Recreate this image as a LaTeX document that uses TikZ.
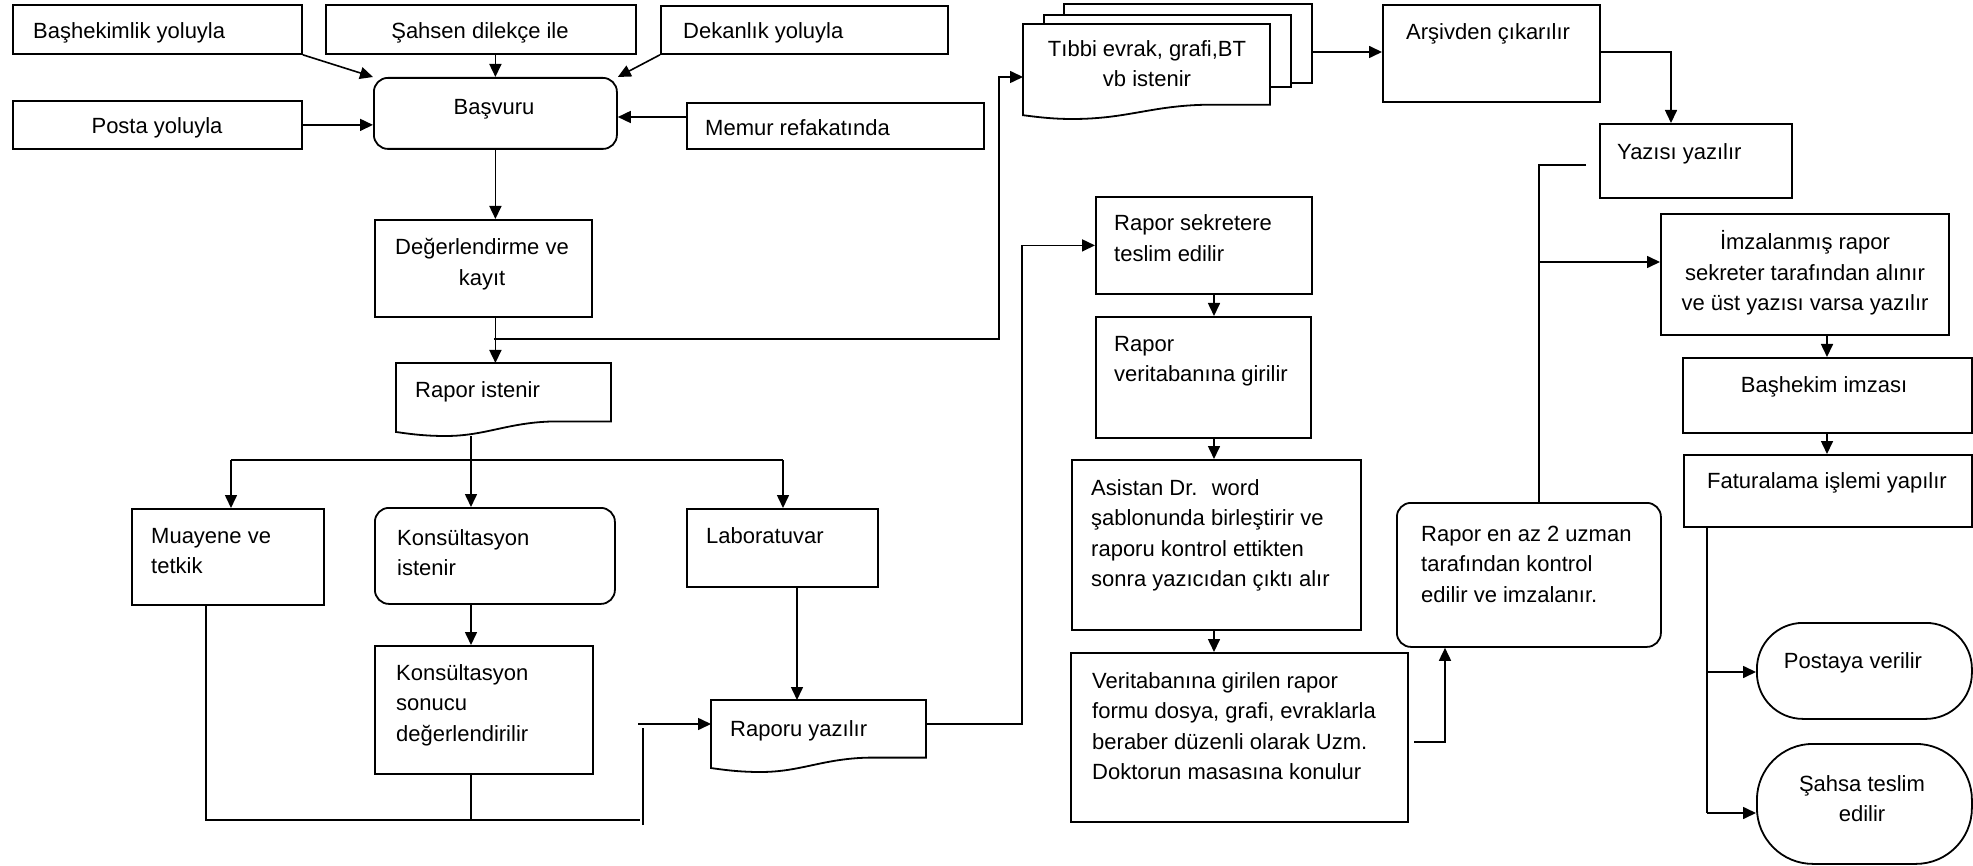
\documentclass[tikz,border=0pt]{standalone}
\usepackage{fontspec}
\setmainfont{Liberation Sans}
\usetikzlibrary{arrows.meta,calc}
\begin{document}
\begin{tikzpicture}[x=1pt,y=-1pt,
  every node/.style={font=\fontsize{22}{30.5}\selectfont},
  box/.style={draw, line width=1.8pt, inner sep=0pt, anchor=north west},
  rbox/.style={box, rounded corners=14pt},
  term/.style={box, rounded corners=#1},
  plain/.style={inner sep=0pt, anchor=north west},
  lt/.style={inner sep=0pt, anchor=base west, align=left},
  ct/.style={inner sep=0pt, anchor=base, align=center},
  arr/.style={-{Triangle[length=13pt,width=12pt]}},
  ln/.style={line width=1.6pt},
  docA/.pic={\path[draw,fill=white,line width=1.8pt] (0,0.945) -- (0,0) -- (1,0) -- (1,0.8) -- (0.74,0.8) .. controls (0.52,0.81) and (0.42,1) .. (0.23,1) .. controls (0.13,1) and (0.06,0.97) .. (0,0.945) -- cycle;},
  docB/.pic={\path[draw,fill=white,line width=1.8pt] (0,0.96) -- (0,0) -- (1,0) -- (1,0.85) -- (0.74,0.85) .. controls (0.52,0.86) and (0.42,1) .. (0.2,1) .. controls (0.12,1) and (0.06,0.98) .. (0,0.96) -- cycle;}
  ]
\useasboundingbox (0,0) rectangle (1973,866);
% boxes
\node[box, minimum width=289pt, minimum height=49pt] (bashek) at (12,4) {};
\node[box, minimum width=310pt, minimum height=49pt] (sahsen) at (325,4) {};
\node[box, minimum width=287pt, minimum height=48pt] (dekan) at (660,5) {};
\node[box, minimum width=289pt, minimum height=48pt] (posta) at (12,100) {};
\node[rbox, minimum width=243pt, minimum height=71pt] (basvuru) at (373,77) {};
\node[box, minimum width=297pt, minimum height=46pt] (memur) at (686,102) {};
\node[box, minimum width=217pt, minimum height=97pt] (deger) at (374,219) {};
\node[plain, minimum width=215pt, minimum height=73pt] (rapist) at (396,363) {};
\pic[xscale=215,yscale=73] at (396,363) {docA};
\node[box, minimum width=192pt, minimum height=96pt] (muayene) at (131,508) {};
\node[rbox, minimum width=240pt, minimum height=96pt] (konsis) at (374,507) {};
\node[box, minimum width=191pt, minimum height=78pt] (lab) at (686,508) {};
\node[box, minimum width=218pt, minimum height=128pt] (konsson) at (374,645) {};
\node[plain, minimum width=215pt, minimum height=72pt] (raporyaz) at (711,700) {};
\pic[xscale=215,yscale=72] at (711,700) {docA};
\node[box, fill=white, minimum width=248pt, minimum height=79pt] (tib3) at (1063,3) {};
\node[box, fill=white, minimum width=247pt, minimum height=72pt] (tib2) at (1043,14) {};
\node[plain, minimum width=247pt, minimum height=95pt] (tibbi) at (1023,24) {};
\pic[xscale=247,yscale=95] at (1023,24) {docB};
\node[box, minimum width=217pt, minimum height=97pt] (arsiv) at (1382,4) {};
\node[box, minimum width=192pt, minimum height=74pt] (yazisi) at (1599,123) {};
\node[box, minimum width=216pt, minimum height=97pt] (sekr) at (1095,196) {};
\node[box, minimum width=215pt, minimum height=121pt] (veritab) at (1095,316) {};
\node[box, minimum width=289pt, minimum height=170pt] (asistan) at (1071,459) {};
\node[box, minimum width=337pt, minimum height=169pt] (verigir) at (1070,652) {};
\node[rbox, minimum width=264pt, minimum height=144pt] (enaz) at (1396,502) {};
\node[box, minimum width=288pt, minimum height=121pt] (imza) at (1660,213) {};
\node[box, minimum width=289pt, minimum height=75pt] (bashekimza) at (1682,357) {};
\node[box, minimum width=288pt, minimum height=72pt] (fatura) at (1683,454) {};
\node[term=46pt, minimum width=215pt, minimum height=96pt] (postaya) at (1756,622) {};
\node[term=56pt, minimum width=215pt, minimum height=120pt] (sahsa) at (1756,743) {};
% texts (y = baseline of the last line)
\node[lt] (t1) at (33,39) {Başhekimlik yoluyla};
\node[ct] (t2) at (480,39) {Şahsen dilekçe ile};
\node[lt] (t3) at (683,39) {Dekanlık yoluyla};
\node[ct] (t4) at (157,134) {Posta yoluyla};
\node[ct] (t5) at (494,115) {Başvuru};
\node[lt] (t6) at (705,136) {Memur refakatında};
\node[ct] (t7) at (482,285.5) {Değerlendirme ve\\kayıt};
\node[lt] (t8) at (415,398) {Rapor istenir};
\node[lt] (t9) at (151,573.5) {Muayene ve\\tetkik};
\node[lt] (t10) at (397,575.5) {Konsültasyon\\istenir};
\node[lt] (t11) at (706,543) {Laboratuvar};
\node[lt] (t12) at (396,741) {Konsültasyon\\sonucu\\değerlendirilir};
\node[lt] (t13) at (730,736) {Raporu yazılır};
\node[ct] (t14) at (1147,87) {Tıbbi evrak, grafi,BT\\vb istenir};
\node[lt] (t15) at (1406,40) {Arşivden çıkarılır};
\node[lt] (t16) at (1617,160) {Yazısı yazılır};
\node[lt] (t17) at (1114,261.5) {Rapor sekretere\\teslim edilir};
\node[lt] (t18) at (1114,381.5) {Rapor\\veritabanına girilir};
\node[lt] (t19) at (1091,586.5) {Asistan Dr.~ word\\şablonunda birleştirir ve\\raporu kontrol ettikten\\sonra yazıcıdan çıktı alır};
\node[lt] (t20) at (1092,779.5) {Veritabanına girilen rapor\\formu dosya, grafi, evraklarla\\beraber düzenli olarak Uzm.\\Doktorun masasına konulur};
\node[lt] (t21) at (1421,602) {Rapor en az 2 uzman\\tarafından kontrol\\edilir ve imzalanır.};
\node[ct] (t22) at (1805,311) {İmzalanmış rapor\\sekreter tarafından alınır\\ve üst yazısı varsa yazılır};
\node[ct] (t23) at (1824,392) {Başhekim imzası};
\node[ct] (t24) at (1827,488) {Faturalama işlemi yapılır};
\node[ct] (t25) at (1853,668) {Postaya verilir};
\node[ct] (t26) at (1862,821.5) {Şahsa teslim\\edilir};
% connectors
\draw[ln,arr] (bashek.south east) -- (basvuru.north west);
\draw[ln,arr] (basvuru.north |- sahsen.south) -- (basvuru.north);
\draw[ln,arr] (dekan.south west) -- (basvuru.north east);
\draw[ln,arr] (posta.east) -- (posta.east -| basvuru.west);
\coordinate (m117) at (0,117);
\draw[ln,arr] (memur.west |- m117) -- (basvuru.east |- m117);
\draw[ln,arr] (basvuru.south) -- (basvuru.south |- deger.north);
\draw[ln,arr] (basvuru.south |- deger.south) -- (basvuru.south |- rapist.north);
\coordinate (br1) at (494,339);
\coordinate (tt) at (999,77);
\draw[ln,arr] (br1) -| (tt) -- (tt -| tibbi.west);
\coordinate (rb) at (471,460);
\coordinate (h1) at (231,460);
\coordinate (h3) at (783,460);
\draw[ln] (rb |- rapist.south) -- (rb);
\draw[ln] (h1) -- (h3);
\draw[ln,arr] (h1) -- (h1 |- muayene.north);
\draw[ln,arr] (rb) -- (rb |- konsis.north);
\draw[ln,arr] (h3) -- (h3 |- lab.north);
\draw[ln,arr] (rb |- konsis.south) -- (rb |- konsson.north);
\coordinate (lx) at (797,0);
\draw[ln,arr] (lx |- lab.south) -- (lx |- raporyaz.north);
\coordinate (b1) at (206,820);
\coordinate (b2) at (640,820);
\draw[ln] (b1 |- muayene.south) -- (b1) -- (b2);
\draw[ln] (rb |- konsson.south) -- (rb |- b1);
\coordinate (v1) at (643,825);
\coordinate (v2) at (643,728);
\draw[ln] (v1) -- (v2);
\coordinate (a1) at (638,724);
\draw[ln,arr] (a1) -- (a1 -| raporyaz.west);
\coordinate (r1) at (1022,724);
\draw[ln,arr] (r1 -| raporyaz.east) -- (r1) |- (sekr.west);
\coordinate (sx) at (1214,0);
\draw[ln,arr] (sx |- sekr.south) -- (sx |- veritab.north);
\draw[ln,arr] (sx |- veritab.south) -- (sx |- asistan.north);
\draw[ln,arr] (sx |- asistan.south) -- (sx |- verigir.north);
\coordinate (e1) at (1414,742);
\coordinate (e2) at (1445,742);
\draw[ln,arr] (e1) -- (e2) -- (e2 |- enaz.south);
\coordinate (q2) at (0,52);
\draw[ln,arr] (tib3.east |- q2) -- (arsiv.west |- q2);
\coordinate (y1) at (1671,52);
\draw[ln,arr] (arsiv.east |- y1) -- (y1) -- (y1 |- yazisi.north);
\coordinate (k1) at (1586,165);
\coordinate (k2) at (1539,165);
\draw[ln] (k1) -- (k2) -- (k2 |- enaz.north);
\coordinate (k3) at (1539,262);
\draw[ln,arr] (k3) -- (k3 -| imza.west);
\coordinate (ix) at (1827,0);
\draw[ln,arr] (ix |- imza.south) -- (ix |- bashekimza.north);
\draw[ln,arr] (ix |- bashekimza.south) -- (ix |- fatura.north);
\coordinate (f1) at (1707,672);
\coordinate (f2) at (1707,813);
\draw[ln] (f1 |- fatura.south) -- (f2);
\draw[ln,arr] (f1) -- (f1 -| postaya.west);
\draw[ln,arr] (f2) -- (f2 -| sahsa.west);
\end{tikzpicture}
\end{document}
